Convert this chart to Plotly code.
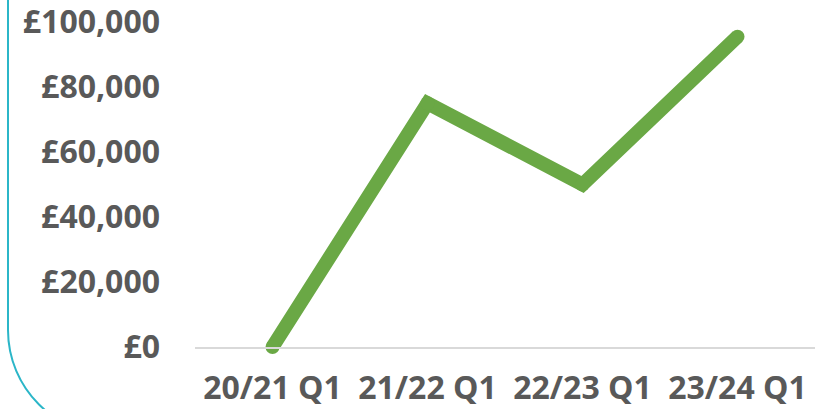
import plotly.graph_objects as go

categories = ["20/21 Q1", "21/22 Q1", "22/23 Q1", "23/24 Q1"]
values = [0, 75000, 50000, 95500]
y_ticks = [0, 20000, 40000, 60000, 80000, 100000]
y_tick_labels = ["\u00a3" + f"{v:,}" for v in y_ticks]

W, H = 833, 409
L, R, T, B = 195, 18, 18, 62
pw, ph = W - L - R, H - T - B
y_zero_px, y_top_px = H - B, 22          # pixel rows of 0 and 100,000
y_max = 100000 * (y_zero_px - T) / (y_zero_px - y_top_px)

def px(x):
    return (x - L) / pw

def py(y):
    return (H - B - y) / ph

green = "#6AA845"
fig = go.Figure()
fig.add_trace(go.Scatter(
    x=categories, y=values, mode="lines+markers",
    line=dict(color=green, width=14),
    marker=dict(color=green, size=14, line=dict(width=0)),
    cliponaxis=False, hoverinfo="skip", showlegend=False,
))

# rounded frame (decoration)
x0, y0, r = 8, 330, 105
k = 0.5523 * r
path = (f"M {px(x0)},{py(-60)} L {px(x0)},{py(y0)} "
        f"C {px(x0)},{py(y0 + k)} {px(x0 + r - k)},{py(y0 + r)} {px(x0 + r)},{py(y0 + r)} "
        f"L {px(W + 50)},{py(y0 + r)}")
fig.add_shape(type="path", path=path, xref="paper", yref="paper",
              line=dict(color="#2BB6C8", width=2), layer="below")

font = dict(family="Open Sans", size=32, color="#595959", weight="bold")
fig.update_layout(
    width=W, height=H,
    margin=dict(l=L, r=R, t=T, b=B, autoexpand=False),
    paper_bgcolor="white", plot_bgcolor="white",
    xaxis=dict(type="category", range=[-0.5, 3.5], showgrid=False, automargin=False,
               showline=True, linecolor="#D9D9D9", linewidth=1.5,
               ticks="", tickfont=font, ticklabelstandoff=12, zeroline=False,
               ticklabeloverflow="allow"),
    yaxis=dict(range=[0, y_max], tickvals=y_ticks, ticktext=y_tick_labels,
               showgrid=False, zeroline=False, showline=False, ticks="", automargin=False,
               tickfont=font, ticklabelstandoff=34, ticklabeloverflow="allow"),
)
fig.write_html("out.html", config={"displayModeBar": False},
               post_script="document.body.style.margin='0';document.body.style.overflow='hidden';")
